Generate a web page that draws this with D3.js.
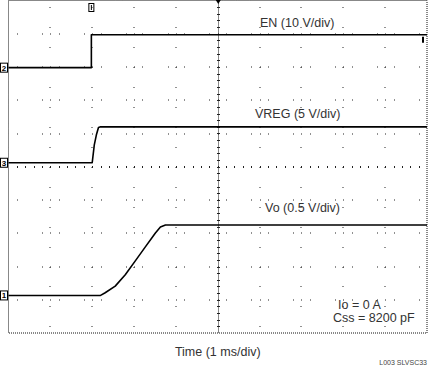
<!DOCTYPE html>
<html>
<head>
<meta charset="utf-8">
<script src="https://cdn.jsdelivr.net/npm/d3@7"></script>
<style>
  html, body { margin: 0; padding: 0; background: #fff; }
  svg { display: block; }
</style>
</head>
<body>
<div id="chart"></div>
<script>
// time in ms (1 ms/div), voltages in V
const enTime   = [0, 1.98, 1.98, 10];
const enVolts  = [0, 0, 9.9, 9.9];

const vregTime  = [0, 2.0, 2.05, 2.1, 2.15, 2.2, 10];
const vregVolts = [0, 0, 2.7, 4.2, 5.3, 5.4, 5.4];

const voTime  = [0, 2.2, 2.31, 2.55, 2.79, 3.03, 3.27, 3.51, 3.63, 3.75, 10];
const voVolts = [0, 0, 0.04, 0.14, 0.31, 0.52, 0.73, 0.94, 1.03, 1.06, 1.06];

const channelNames = ['EN (10 V/div)', 'VREG (5 V/div)', 'Vo (0.5 V/div)'];
const channelIds   = ['2', '3', '1'];
const voltsPerDiv  = [10, 5, 0.5];
const zeroDiv      = [7.98, 5.12, 1.13];   // ground level of each channel, in divisions

const notes     = ['Io = 0 A', 'Css = 8200 pF'];
const xTitle    = 'Time (1 ms/div)';
const figureTag = 'L003  SLVSC33';

const W = 428, H = 366;
const plot = { left: 8.5, right: 427, top: 0.5, bottom: 333 };

const svg = d3.select('#chart').append('svg')
  .attr('width', W)
  .attr('height', H);

const x = d3.scaleLinear().domain([0, 10]).range([plot.left, plot.right]);
const y = d3.scaleLinear().domain([0, 10]).range([plot.bottom, plot.top]);

const grid = svg.append('g').attr('fill', '#222');

// sparse dotted graticule
for (let i = 1; i < 10; i++) {
  if (i === 5) continue;
  // vertical lines: a dot every 0.6 div
  for (let v = 0.2; v < 10; v += 0.6) {
    grid.append('rect').attr('x', Math.round(x(i)) - 0.5).attr('y', Math.round(y(v)))
      .attr('width', 1).attr('height', 1);
  }
}
for (let j = 1; j < 10; j++) {
  if (j === 5) continue;
  // horizontal lines: dots at each crossing and one minor tick either side
  for (let i = 0; i <= 10; i++) {
    [-0.2, 0, 0.2].forEach(d => {
      const t = i + d;
      if (t <= 0 || t >= 10) return;
      grid.append('rect').attr('x', Math.round(x(t))).attr('y', Math.round(y(j)) - 0.5)
        .attr('width', 1).attr('height', 1);
    });
  }
}

// centre lines
svg.append('line')
  .attr('x1', Math.round(x(5)) + 0.5).attr('x2', Math.round(x(5)) + 0.5)
  .attr('y1', y(10)).attr('y2', y(0))
  .attr('stroke', '#111').attr('stroke-width', 1).attr('stroke-dasharray', '1,1');
d3.range(0.2, 10, 0.2).forEach(t => {
  svg.append('rect').attr('x', Math.round(x(t))).attr('y', Math.round(y(5)) - 1)
    .attr('width', 1).attr('height', 2).attr('fill', '#222');
});
d3.range(0.2, 10, 0.2).forEach(v => {
  svg.append('rect').attr('x', Math.round(x(5)) - 1).attr('y', Math.round(y(v)))
    .attr('width', 3).attr('height', 1).attr('fill', '#222');
});

// frame
svg.append('rect')
  .attr('x', plot.left).attr('y', plot.top)
  .attr('width', plot.right - plot.left).attr('height', plot.bottom - plot.top)
  .attr('fill', 'none').attr('stroke', '#111').attr('stroke-width', 1)
  .attr('stroke-dasharray', '1,1');

// traces
const traces = [
  { t: enTime, v: enVolts },
  { t: vregTime, v: vregVolts },
  { t: voTime, v: voVolts }
];

const line = d3.line()
  .x(d => x(d[0]))
  .y(d => y(d[1]));

traces.forEach((tr, k) => {
  const pts = tr.t.map((t, i) => [t, zeroDiv[k] + tr.v[i] / voltsPerDiv[k]]);
  svg.append('path')
    .attr('d', line(pts))
    .attr('fill', 'none')
    .attr('stroke', '#000')
    .attr('stroke-width', 1.6)
    .attr('stroke-linejoin', 'round');
});

// channel ground markers
zeroDiv.forEach((z, k) => {
  const g = svg.append('g').attr('transform', `translate(0,${y(z)})`);
  g.append('rect').attr('x', 0.5).attr('y', -4.5).attr('width', 7).attr('height', 9)
    .attr('fill', '#fff').attr('stroke', '#000').attr('stroke-width', 1);
  g.append('text').attr('x', 4).attr('y', 3)
    .attr('text-anchor', 'middle')
    .attr('font-family', 'Liberation Sans, Arial, sans-serif')
    .attr('font-size', '8px').attr('font-weight', 'bold')
    .text(channelIds[k]);
});

// trigger position marker
const trg = svg.append('g').attr('transform', `translate(${x(enTime[1])},0)`);
trg.append('rect').attr('x', -2.5).attr('y', 3.5).attr('width', 5).attr('height', 8)
  .attr('fill', 'none').attr('stroke', '#000').attr('stroke-width', 1);
trg.append('line').attr('x1', 0).attr('x2', 0).attr('y1', 5).attr('y2', 10)
  .attr('stroke', '#000');
svg.append('path')
  .attr('d', `M${x(5) - 2},0 L${x(5) + 3},0 L${x(5) + 0.5},4 Z`)
  .attr('fill', '#000');
svg.append('rect').attr('x', 422).attr('y', y(zeroDiv[0] + 0.9) - 1)
  .attr('width', 2).attr('height', 6).attr('fill', '#000');

const font = 'Liberation Sans, Arial, Helvetica, sans-serif';

// channel labels
const labelPos = [[260, 27], [255, 118], [265, 212]];
channelNames.forEach((name, k) => {
  svg.append('text')
    .attr('x', labelPos[k][0]).attr('y', labelPos[k][1])
    .attr('font-family', font).attr('font-size', '12.5px')
    .attr('fill', '#333')
    .text(name);
});

// conditions
notes.forEach((n, i) => {
  svg.append('text')
    .attr('x', i === 0 ? 338 : 333).attr('y', 309 + i * 13)
    .attr('font-family', font).attr('font-size', '12.5px')
    .attr('fill', '#333')
    .text(n);
});

svg.append('text')
  .attr('x', x(5)).attr('y', 356)
  .attr('text-anchor', 'middle')
  .attr('font-family', font).attr('font-size', '12.5px')
  .attr('fill', '#333')
  .text(xTitle);

svg.append('text')
  .attr('x', 427).attr('y', 365)
  .attr('text-anchor', 'end')
  .attr('font-family', font).attr('font-size', '7px')
  .attr('fill', '#444')
  .text(figureTag);
</script>
</body>
</html>
